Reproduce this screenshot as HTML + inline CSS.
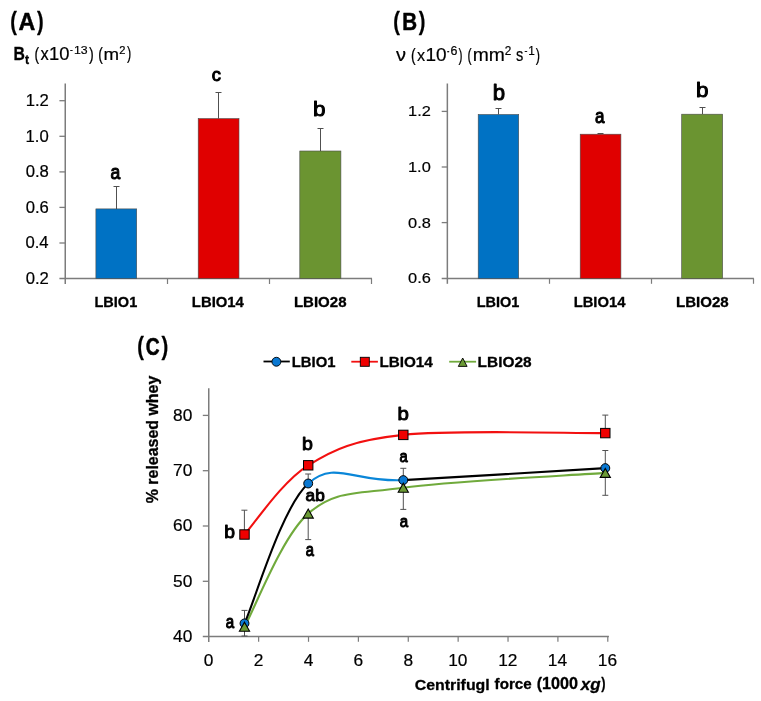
<!DOCTYPE html>
<html><head><meta charset="utf-8"><style>
html,body{margin:0;padding:0;background:#fff;}
svg{display:block;will-change:transform;}
text{font-family:"Liberation Sans",sans-serif;fill:#000;}
</style></head><body>
<svg width="761" height="701" viewBox="0 0 761 701">
<rect width="761" height="701" fill="#fff"/>
<line x1="65.25" y1="83.5" x2="65.25" y2="284.0" stroke="#7c7c7c" stroke-width="1.5"/>
<line x1="59.4" y1="100.7" x2="65.25" y2="100.7" stroke="#7c7c7c" stroke-width="1.3"/>
<line x1="59.4" y1="136.3" x2="65.25" y2="136.3" stroke="#7c7c7c" stroke-width="1.3"/>
<line x1="59.4" y1="171.9" x2="65.25" y2="171.9" stroke="#7c7c7c" stroke-width="1.3"/>
<line x1="59.4" y1="207.4" x2="65.25" y2="207.4" stroke="#7c7c7c" stroke-width="1.3"/>
<line x1="59.4" y1="243.0" x2="65.25" y2="243.0" stroke="#7c7c7c" stroke-width="1.3"/>
<line x1="59.4" y1="278.5" x2="372.0" y2="278.5" stroke="#7c7c7c" stroke-width="1.6"/>
<line x1="167.5" y1="278.5" x2="167.5" y2="284.0" stroke="#7c7c7c" stroke-width="1.2"/>
<line x1="269.5" y1="278.5" x2="269.5" y2="284.0" stroke="#7c7c7c" stroke-width="1.2"/>
<line x1="371.5" y1="278.5" x2="371.5" y2="284.0" stroke="#7c7c7c" stroke-width="1.2"/>
<path d="M116.5 209.0V186.5M113.5 186.5H119.5" stroke="#505050" stroke-width="1.0" fill="none"/>
<path d="M218.5 118.6V92.5M215.5 92.5H221.5" stroke="#505050" stroke-width="1.0" fill="none"/>
<path d="M320.5 151.0V128.5M317.5 128.5H323.5" stroke="#505050" stroke-width="1.0" fill="none"/>
<rect x="95.9" y="208.9" width="40.80" height="69.60" fill="#0072C4" stroke="#4a4a4a" stroke-width="0.6"/>
<rect x="198.2" y="118.6" width="40.80" height="159.90" fill="#E00000" stroke="#4a4a4a" stroke-width="0.6"/>
<rect x="299.8" y="151.0" width="41.10" height="127.50" fill="#6B9431" stroke="#4a4a4a" stroke-width="0.6"/>
<line x1="447.35" y1="83.5" x2="447.35" y2="283.8" stroke="#7c7c7c" stroke-width="1.5"/>
<line x1="441.7" y1="111.4" x2="447.35" y2="111.4" stroke="#7c7c7c" stroke-width="1.3"/>
<line x1="441.7" y1="167.0" x2="447.35" y2="167.0" stroke="#7c7c7c" stroke-width="1.3"/>
<line x1="441.7" y1="222.6" x2="447.35" y2="222.6" stroke="#7c7c7c" stroke-width="1.3"/>
<line x1="441.7" y1="278.5" x2="753.9" y2="278.5" stroke="#7c7c7c" stroke-width="1.6"/>
<line x1="549.5" y1="278.5" x2="549.5" y2="283.8" stroke="#7c7c7c" stroke-width="1.2"/>
<line x1="651.5" y1="278.5" x2="651.5" y2="283.8" stroke="#7c7c7c" stroke-width="1.2"/>
<line x1="753.5" y1="278.5" x2="753.5" y2="283.8" stroke="#7c7c7c" stroke-width="1.2"/>
<path d="M498.5 114.5V108.5M495.5 108.5H501.5" stroke="#505050" stroke-width="1.0" fill="none"/>
<path d="M600.5 134.2V133.5M597.5 133.5H603.5" stroke="#505050" stroke-width="1.0" fill="none"/>
<path d="M702.5 114.2V107.5M699.5 107.5H705.5" stroke="#505050" stroke-width="1.0" fill="none"/>
<rect x="478.2" y="114.5" width="40.50" height="164.00" fill="#0072C4" stroke="#4a4a4a" stroke-width="0.6"/>
<rect x="580.2" y="134.2" width="40.70" height="144.30" fill="#E00000" stroke="#4a4a4a" stroke-width="0.6"/>
<rect x="681.7" y="114.2" width="40.90" height="164.30" fill="#6B9431" stroke="#4a4a4a" stroke-width="0.6"/>
<line x1="208.75" y1="388.3" x2="208.75" y2="642.0" stroke="#7c7c7c" stroke-width="1.5"/>
<line x1="202.8" y1="415.4" x2="208.75" y2="415.4" stroke="#7c7c7c" stroke-width="1.3"/>
<line x1="202.8" y1="470.7" x2="208.75" y2="470.7" stroke="#7c7c7c" stroke-width="1.3"/>
<line x1="202.8" y1="526.0" x2="208.75" y2="526.0" stroke="#7c7c7c" stroke-width="1.3"/>
<line x1="202.8" y1="581.3" x2="208.75" y2="581.3" stroke="#7c7c7c" stroke-width="1.3"/>
<line x1="202.8" y1="636.5" x2="608.9" y2="636.5" stroke="#7c7c7c" stroke-width="1.6"/>
<line x1="258.63" y1="636.5" x2="258.63" y2="641.8" stroke="#7c7c7c" stroke-width="1.2"/>
<line x1="308.51" y1="636.5" x2="308.51" y2="641.8" stroke="#7c7c7c" stroke-width="1.2"/>
<line x1="358.39" y1="636.5" x2="358.39" y2="641.8" stroke="#7c7c7c" stroke-width="1.2"/>
<line x1="408.27" y1="636.5" x2="408.27" y2="641.8" stroke="#7c7c7c" stroke-width="1.2"/>
<line x1="458.15" y1="636.5" x2="458.15" y2="641.8" stroke="#7c7c7c" stroke-width="1.2"/>
<line x1="508.03" y1="636.5" x2="508.03" y2="641.8" stroke="#7c7c7c" stroke-width="1.2"/>
<line x1="557.91" y1="636.5" x2="557.91" y2="641.8" stroke="#7c7c7c" stroke-width="1.2"/>
<line x1="607.79" y1="636.5" x2="607.79" y2="641.8" stroke="#7c7c7c" stroke-width="1.2"/>
<path d="M244.5 623.4V610.4M241.5 610.4H247.5" stroke="#505050" stroke-width="1.0" fill="none"/>
<path d="M244.5 626.7V636.0M241.5 636.0H247.5" stroke="#505050" stroke-width="1.0" fill="none"/>
<path d="M244.4 534.5V510.2M241.4 510.2H247.4" stroke="#505050" stroke-width="1.0" fill="none"/>
<path d="M308.2 483.3V474.0M305.2 474.0H311.2" stroke="#505050" stroke-width="1.0" fill="none"/>
<path d="M308.2 513.6V539.6M305.2 539.6H311.2" stroke="#505050" stroke-width="1.0" fill="none"/>
<path d="M403.3 480.1V468.3M400.3 468.3H406.3" stroke="#505050" stroke-width="1.0" fill="none"/>
<path d="M403.3 487.7V509.4M400.3 509.4H406.3" stroke="#505050" stroke-width="1.0" fill="none"/>
<path d="M605.3 433.0V415.1M602.3 415.1H608.3" stroke="#505050" stroke-width="1.0" fill="none"/>
<path d="M605.3 468.1V450.5M602.3 450.5H608.3" stroke="#505050" stroke-width="1.0" fill="none"/>
<path d="M605.3 472.9V495.3M602.3 495.3H608.3" stroke="#505050" stroke-width="1.0" fill="none"/>
<path d="M244.50 626.70C255.12 607.85 281.73 536.77 308.20 513.60M308.20 513.60C334.67 490.43 353.78 494.48 403.30 487.70M403.30 487.70C452.82 480.92 571.63 475.37 605.30 472.90" stroke="#70AA3C" stroke-width="2.1" fill="none"/>
<path d="M244.50 623.40C255.12 600.08 281.73 507.38 308.20 483.50M403.30 480.10C452.82 477.53 571.63 470.10 605.30 468.10" stroke="#000000" stroke-width="2.1" fill="none"/>
<path d="M308.20 483.50C334.67 459.62 353.78 482.67 403.30 480.10" stroke="#0A86D8" stroke-width="2.1" fill="none"/>
<path d="M244.50 534.50C255.12 522.97 281.73 481.90 308.20 465.30M308.20 465.30C334.67 448.70 353.78 440.27 403.30 434.90M403.30 434.90C452.82 429.53 571.63 433.40 605.30 433.10" stroke="#F21010" stroke-width="2.1" fill="none"/>
<rect x="239.80" y="529.80" width="9.4" height="9.4" fill="#F00000" stroke="#000" stroke-width="1.0"/>
<rect x="303.50" y="460.60" width="9.4" height="9.4" fill="#F00000" stroke="#000" stroke-width="1.0"/>
<rect x="398.60" y="430.20" width="9.4" height="9.4" fill="#F00000" stroke="#000" stroke-width="1.0"/>
<rect x="600.60" y="428.40" width="9.4" height="9.4" fill="#F00000" stroke="#000" stroke-width="1.0"/>
<circle cx="244.5" cy="623.4" r="4.45" fill="#0A78D2" stroke="#000" stroke-width="1.0"/>
<circle cx="308.2" cy="483.5" r="4.45" fill="#0A78D2" stroke="#000" stroke-width="1.0"/>
<circle cx="403.3" cy="480.1" r="4.45" fill="#0A78D2" stroke="#000" stroke-width="1.0"/>
<circle cx="605.3" cy="468.1" r="4.45" fill="#0A78D2" stroke="#000" stroke-width="1.0"/>
<path d="M244.50 622.20L249.60 631.20L239.40 631.20Z" fill="#6B9A35" stroke="#000" stroke-width="1.1" stroke-linejoin="miter"/>
<path d="M308.20 509.10L313.30 518.10L303.10 518.10Z" fill="#6B9A35" stroke="#000" stroke-width="1.1" stroke-linejoin="miter"/>
<path d="M403.30 483.20L408.40 492.20L398.20 492.20Z" fill="#6B9A35" stroke="#000" stroke-width="1.1" stroke-linejoin="miter"/>
<path d="M605.30 468.40L610.40 477.40L600.20 477.40Z" fill="#6B9A35" stroke="#000" stroke-width="1.1" stroke-linejoin="miter"/>
<line x1="263.5" y1="361.5" x2="289.8" y2="361.5" stroke="#000000" stroke-width="1.8"/>
<circle cx="276.4" cy="361.75" r="4.45" fill="#0A78D2" stroke="#000" stroke-width="0.9"/>
<line x1="351.3" y1="361.7" x2="377.9" y2="361.7" stroke="#F21010" stroke-width="1.8"/>
<rect x="360.30" y="357.30" width="9.0" height="9.0" fill="#F00000" stroke="#000" stroke-width="0.9"/>
<line x1="449.2" y1="361.7" x2="476.1" y2="361.7" stroke="#70AA3C" stroke-width="1.8"/>
<path d="M462.70 358.00L467.10 366.40L458.30 366.40Z" fill="#6B9A35" stroke="#000" stroke-width="0.9" stroke-linejoin="miter"/>
<g fill="#000">
<text transform="matrix(0.16618 0 0 0.21018 10.328 29.521)" font-size="120" font-weight="bold" stroke="#000" stroke-width="1.33" stroke-linejoin="round">(</text>
<text transform="matrix(0.19375 0 0 0.20361 18.569 30.150)" font-size="120" font-weight="bold" stroke="#000" stroke-width="2.52" stroke-linejoin="round">A</text>
<text transform="matrix(0.16618 0 0 0.21018 37.025 29.521)" font-size="120" font-weight="bold" stroke="#000" stroke-width="1.33" stroke-linejoin="round">)</text>
<text transform="matrix(0.13151 0 0 0.14819 13.498 59.550)" font-size="120" font-weight="bold" stroke="#000" stroke-width="2.15" stroke-linejoin="round">B</text>
<text transform="matrix(0.10270 0 0 0.09875 25.047 64.251)" font-size="120" font-weight="bold" stroke="#000" stroke-width="2.98" stroke-linejoin="round">t</text>
<text transform="matrix(0.11563 0 0 0.15446 34.591 59.638)" font-size="120" stroke="#000" stroke-width="1.48" stroke-linejoin="round">(</text>
<text transform="matrix(0.13750 0 0 0.14687 40.525 59.800)" font-size="120" stroke="#000" stroke-width="1.41" stroke-linejoin="round">x</text>
<text transform="matrix(0.15333 0 0 0.14824 49.120 59.652)" font-size="120" stroke="#000" stroke-width="1.33" stroke-linejoin="round">10</text>
<text transform="matrix(0.07000 0 0 0.08889 70.050 53.100)" font-size="120" stroke="#000" stroke-width="2.52" stroke-linejoin="round">-</text>
<text transform="matrix(0.10252 0 0 0.09419 73.877 53.506)" font-size="120" stroke="#000" stroke-width="2.03" stroke-linejoin="round">13</text>
<text transform="matrix(0.11935 0 0 0.15446 88.981 59.538)" font-size="120" stroke="#000" stroke-width="1.46" stroke-linejoin="round">)</text>
<text transform="matrix(0.11563 0 0 0.15446 98.291 59.638)" font-size="120" stroke="#000" stroke-width="1.48" stroke-linejoin="round">(</text>
<text transform="matrix(0.15595 0 0 0.14154 103.452 59.600)" font-size="120" stroke="#000" stroke-width="1.34" stroke-linejoin="round">m</text>
<text transform="matrix(0.09273 0 0 0.09643 119.344 53.600)" font-size="120" stroke="#000" stroke-width="2.11" stroke-linejoin="round">2</text>
<text transform="matrix(0.10645 0 0 0.15268 127.094 59.483)" font-size="120" stroke="#000" stroke-width="1.54" stroke-linejoin="round">)</text>
<text transform="matrix(0.13910 0 0 0.13140 25.704 106.119)" font-size="120" stroke="#000" stroke-width="1.48" stroke-linejoin="round">1.2</text>
<text transform="matrix(0.13910 0 0 0.13140 25.565 141.653)" font-size="120" stroke="#000" stroke-width="1.48" stroke-linejoin="round">1.0</text>
<text transform="matrix(0.13910 0 0 0.13140 25.704 177.319)" font-size="120" stroke="#000" stroke-width="1.48" stroke-linejoin="round">0.8</text>
<text transform="matrix(0.13910 0 0 0.13140 25.704 212.753)" font-size="120" stroke="#000" stroke-width="1.48" stroke-linejoin="round">0.6</text>
<text transform="matrix(0.13910 0 0 0.13140 25.426 248.353)" font-size="120" stroke="#000" stroke-width="1.48" stroke-linejoin="round">0.4</text>
<text transform="matrix(0.13910 0 0 0.13140 25.704 283.853)" font-size="120" stroke="#000" stroke-width="1.48" stroke-linejoin="round">0.2</text>
<text transform="matrix(0.12105 0 0 0.12326 94.482 306.527)" font-size="120" font-weight="bold" stroke="#000" stroke-width="2.46" stroke-linejoin="round">LBIO1</text>
<text transform="matrix(0.12379 0 0 0.12326 191.860 306.527)" font-size="120" font-weight="bold" stroke="#000" stroke-width="2.43" stroke-linejoin="round">LBIO14</text>
<text transform="matrix(0.12518 0 0 0.12326 293.949 306.527)" font-size="120" font-weight="bold" stroke="#000" stroke-width="2.42" stroke-linejoin="round">LBIO28</text>
<text transform="matrix(0.14597 0 0 0.16364 110.570 179.136)" font-size="120" stroke="#000" stroke-width="6.46" stroke-linejoin="round">a</text>
<text transform="matrix(0.15288 0 0 0.16061 211.836 81.139)" font-size="120" stroke="#000" stroke-width="6.38" stroke-linejoin="round">c</text>
<text transform="matrix(0.18704 0 0 0.17528 313.104 116.049)" font-size="120" stroke="#000" stroke-width="5.52" stroke-linejoin="round">b</text>
<text transform="matrix(0.16618 0 0 0.21018 393.328 29.521)" font-size="120" font-weight="bold" stroke="#000" stroke-width="1.33" stroke-linejoin="round">(</text>
<text transform="matrix(0.17123 0 0 0.20000 402.280 29.850)" font-size="120" font-weight="bold" stroke="#000" stroke-width="2.69" stroke-linejoin="round">B</text>
<text transform="matrix(0.16618 0 0 0.21018 418.625 29.521)" font-size="120" font-weight="bold" stroke="#000" stroke-width="1.33" stroke-linejoin="round">)</text>
<text transform="matrix(0.16727 0 0 0.14687 396.000 61.200)" font-size="120" stroke="#000" stroke-width="1.27" stroke-linejoin="round">ν</text>
<text transform="matrix(0.11562 0 0 0.15357 411.091 60.561)" font-size="120" stroke="#000" stroke-width="1.49" stroke-linejoin="round">(</text>
<text transform="matrix(0.13571 0 0 0.14062 416.929 61.000)" font-size="120" stroke="#000" stroke-width="1.45" stroke-linejoin="round">x</text>
<text transform="matrix(0.15833 0 0 0.15412 425.475 60.946)" font-size="120" stroke="#000" stroke-width="1.28" stroke-linejoin="round">10</text>
<text transform="matrix(0.06000 0 0 0.10000 447.000 54.600)" font-size="120" stroke="#000" stroke-width="2.50" stroke-linejoin="round">-</text>
<text transform="matrix(0.10364 0 0 0.09882 450.478 54.801)" font-size="120" stroke="#000" stroke-width="1.98" stroke-linejoin="round">6</text>
<text transform="matrix(0.10000 0 0 0.15446 458.400 60.538)" font-size="120" stroke="#000" stroke-width="1.57" stroke-linejoin="round">)</text>
<text transform="matrix(0.10312 0 0 0.15446 467.378 60.538)" font-size="120" stroke="#000" stroke-width="1.55" stroke-linejoin="round">(</text>
<text transform="matrix(0.16087 0 0 0.15538 472.713 61.100)" font-size="120" stroke="#000" stroke-width="1.26" stroke-linejoin="round">mm</text>
<text transform="matrix(0.09818 0 0 0.10000 504.811 54.900)" font-size="120" stroke="#000" stroke-width="2.02" stroke-linejoin="round">2</text>
<text transform="matrix(0.12115 0 0 0.14848 515.915 60.952)" font-size="120" stroke="#000" stroke-width="1.48" stroke-linejoin="round">s</text>
<text transform="matrix(0.07333 0 0 0.08889 524.533 54.300)" font-size="120" stroke="#000" stroke-width="2.47" stroke-linejoin="round">-</text>
<text transform="matrix(0.09808 0 0 0.10120 528.217 54.900)" font-size="120" stroke="#000" stroke-width="2.01" stroke-linejoin="round">1</text>
<text transform="matrix(0.10645 0 0 0.15446 535.794 60.538)" font-size="120" stroke="#000" stroke-width="1.53" stroke-linejoin="round">)</text>
<text transform="matrix(0.13654 0 0 0.12558 408.117 116.374)" font-size="120" stroke="#000" stroke-width="1.53" stroke-linejoin="round">1.2</text>
<text transform="matrix(0.13654 0 0 0.12558 407.981 171.912)" font-size="120" stroke="#000" stroke-width="1.53" stroke-linejoin="round">1.0</text>
<text transform="matrix(0.13654 0 0 0.12558 408.117 227.574)" font-size="120" stroke="#000" stroke-width="1.53" stroke-linejoin="round">0.8</text>
<text transform="matrix(0.13654 0 0 0.12558 408.117 283.112)" font-size="120" stroke="#000" stroke-width="1.53" stroke-linejoin="round">0.6</text>
<text transform="matrix(0.12076 0 0 0.12326 476.684 306.527)" font-size="120" font-weight="bold" stroke="#000" stroke-width="2.46" stroke-linejoin="round">LBIO1</text>
<text transform="matrix(0.12330 0 0 0.12326 573.664 306.527)" font-size="120" font-weight="bold" stroke="#000" stroke-width="2.43" stroke-linejoin="round">LBIO14</text>
<text transform="matrix(0.12567 0 0 0.12326 675.945 306.527)" font-size="120" font-weight="bold" stroke="#000" stroke-width="2.41" stroke-linejoin="round">LBIO28</text>
<text transform="matrix(0.18519 0 0 0.17753 492.719 99.645)" font-size="120" stroke="#000" stroke-width="5.51" stroke-linejoin="round">b</text>
<text transform="matrix(0.14194 0 0 0.17121 595.090 123.029)" font-size="120" stroke="#000" stroke-width="6.39" stroke-linejoin="round">a</text>
<text transform="matrix(0.18704 0 0 0.17303 696.104 97.454)" font-size="120" stroke="#000" stroke-width="5.55" stroke-linejoin="round">b</text>
<text transform="matrix(0.16618 0 0 0.21018 137.128 354.521)" font-size="120" font-weight="bold" stroke="#000" stroke-width="1.33" stroke-linejoin="round">(</text>
<text transform="matrix(0.16026 0 0 0.20698 145.749 355.243)" font-size="120" font-weight="bold" stroke="#000" stroke-width="2.72" stroke-linejoin="round">C</text>
<text transform="matrix(0.16912 0 0 0.21018 161.425 354.521)" font-size="120" font-weight="bold" stroke="#000" stroke-width="1.32" stroke-linejoin="round">)</text>
<text transform="matrix(0.12398 0 0 0.12558 291.758 367.124)" font-size="120" font-weight="bold" stroke="#000" stroke-width="2.40" stroke-linejoin="round">LBIO1</text>
<text transform="matrix(0.12718 0 0 0.12791 379.433 367.222)" font-size="120" font-weight="bold" stroke="#000" stroke-width="2.35" stroke-linejoin="round">LBIO14</text>
<text transform="matrix(0.12861 0 0 0.12558 477.621 367.124)" font-size="120" font-weight="bold" stroke="#000" stroke-width="2.36" stroke-linejoin="round">LBIO28</text>
<text transform="matrix(0 -0.13292 0.14071 0 157.532 503.249)" font-size="120" font-weight="bold" stroke="#000" stroke-width="2.19" stroke-linejoin="round">% released whey</text>
<text transform="matrix(0.14435 0 0 0.13372 173.078 420.816)" font-size="120" stroke="#000" stroke-width="1.44" stroke-linejoin="round">80</text>
<text transform="matrix(0.14435 0 0 0.13372 173.078 476.049)" font-size="120" stroke="#000" stroke-width="1.44" stroke-linejoin="round">70</text>
<text transform="matrix(0.14435 0 0 0.13372 173.078 531.349)" font-size="120" stroke="#000" stroke-width="1.44" stroke-linejoin="round">60</text>
<text transform="matrix(0.14435 0 0 0.13372 173.078 586.649)" font-size="120" stroke="#000" stroke-width="1.44" stroke-linejoin="round">50</text>
<text transform="matrix(0.14435 0 0 0.13372 173.078 641.649)" font-size="120" stroke="#000" stroke-width="1.44" stroke-linejoin="round">40</text>
<text transform="matrix(0.14435 0 0 0.13372 203.864 665.699)" font-size="120" stroke="#000" stroke-width="1.44" stroke-linejoin="round">0</text>
<text transform="matrix(0.14435 0 0 0.13372 253.744 665.766)" font-size="120" stroke="#000" stroke-width="1.44" stroke-linejoin="round">2</text>
<text transform="matrix(0.14435 0 0 0.13372 303.696 665.699)" font-size="120" stroke="#000" stroke-width="1.44" stroke-linejoin="round">4</text>
<text transform="matrix(0.14435 0 0 0.13372 353.504 665.699)" font-size="120" stroke="#000" stroke-width="1.44" stroke-linejoin="round">6</text>
<text transform="matrix(0.14435 0 0 0.13372 403.456 665.766)" font-size="120" stroke="#000" stroke-width="1.44" stroke-linejoin="round">8</text>
<text transform="matrix(0.14435 0 0 0.13372 448.140 665.699)" font-size="120" stroke="#000" stroke-width="1.44" stroke-linejoin="round">10</text>
<text transform="matrix(0.14435 0 0 0.13372 498.164 665.766)" font-size="120" stroke="#000" stroke-width="1.44" stroke-linejoin="round">12</text>
<text transform="matrix(0.14435 0 0 0.13372 547.827 665.699)" font-size="120" stroke="#000" stroke-width="1.44" stroke-linejoin="round">14</text>
<text transform="matrix(0.14435 0 0 0.13372 597.852 665.699)" font-size="120" stroke="#000" stroke-width="1.44" stroke-linejoin="round">16</text>
<text transform="matrix(0.13237 0 0 0.12807 414.788 689.520)" font-size="120" font-weight="bold" stroke="#000" stroke-width="2.30" stroke-linejoin="round">Centrifugl</text>
<text transform="matrix(0.12648 0 0 0.12921 494.597 689.421)" font-size="120" font-weight="bold" stroke="#000" stroke-width="2.35" stroke-linejoin="round">force</text>
<text transform="matrix(0.13480 0 0 0.13274 536.641 689.431)" font-size="120" font-weight="bold" stroke="#000" stroke-width="2.24" stroke-linejoin="round">(1000</text>
<text transform="matrix(0.14126 0 0 0.13000 580.756 689.600)" font-size="120" font-weight="bold" font-style="italic" stroke="#000" stroke-width="2.21" stroke-linejoin="round">xg</text>
<text transform="matrix(0.10735 0 0 0.13319 601.325 689.445)" font-size="120" font-weight="bold" stroke="#000" stroke-width="2.08" stroke-linejoin="round">)</text>
<text transform="matrix(0.16111 0 0 0.15056 224.311 538.099)" font-size="120" stroke="#000" stroke-width="6.42" stroke-linejoin="round">b</text>
<text transform="matrix(0.12581 0 0 0.14697 225.871 628.053)" font-size="120" stroke="#000" stroke-width="7.33" stroke-linejoin="round">a</text>
<text transform="matrix(0.16296 0 0 0.15506 301.996 449.890)" font-size="120" stroke="#000" stroke-width="6.29" stroke-linejoin="round">b</text>
<text transform="matrix(0.14309 0 0 0.13596 305.585 500.728)" font-size="120" stroke="#000" stroke-width="7.17" stroke-linejoin="round">ab</text>
<text transform="matrix(0.12258 0 0 0.14697 305.787 555.853)" font-size="120" stroke="#000" stroke-width="7.42" stroke-linejoin="round">a</text>
<text transform="matrix(0.17037 0 0 0.15281 397.437 419.794)" font-size="120" stroke="#000" stroke-width="6.19" stroke-linejoin="round">b</text>
<text transform="matrix(0.12258 0 0 0.14394 399.587 462.356)" font-size="120" stroke="#000" stroke-width="7.50" stroke-linejoin="round">a</text>
<text transform="matrix(0.12581 0 0 0.14091 399.771 527.159)" font-size="120" stroke="#000" stroke-width="7.50" stroke-linejoin="round">a</text>
</g>
</svg>
</body></html>
